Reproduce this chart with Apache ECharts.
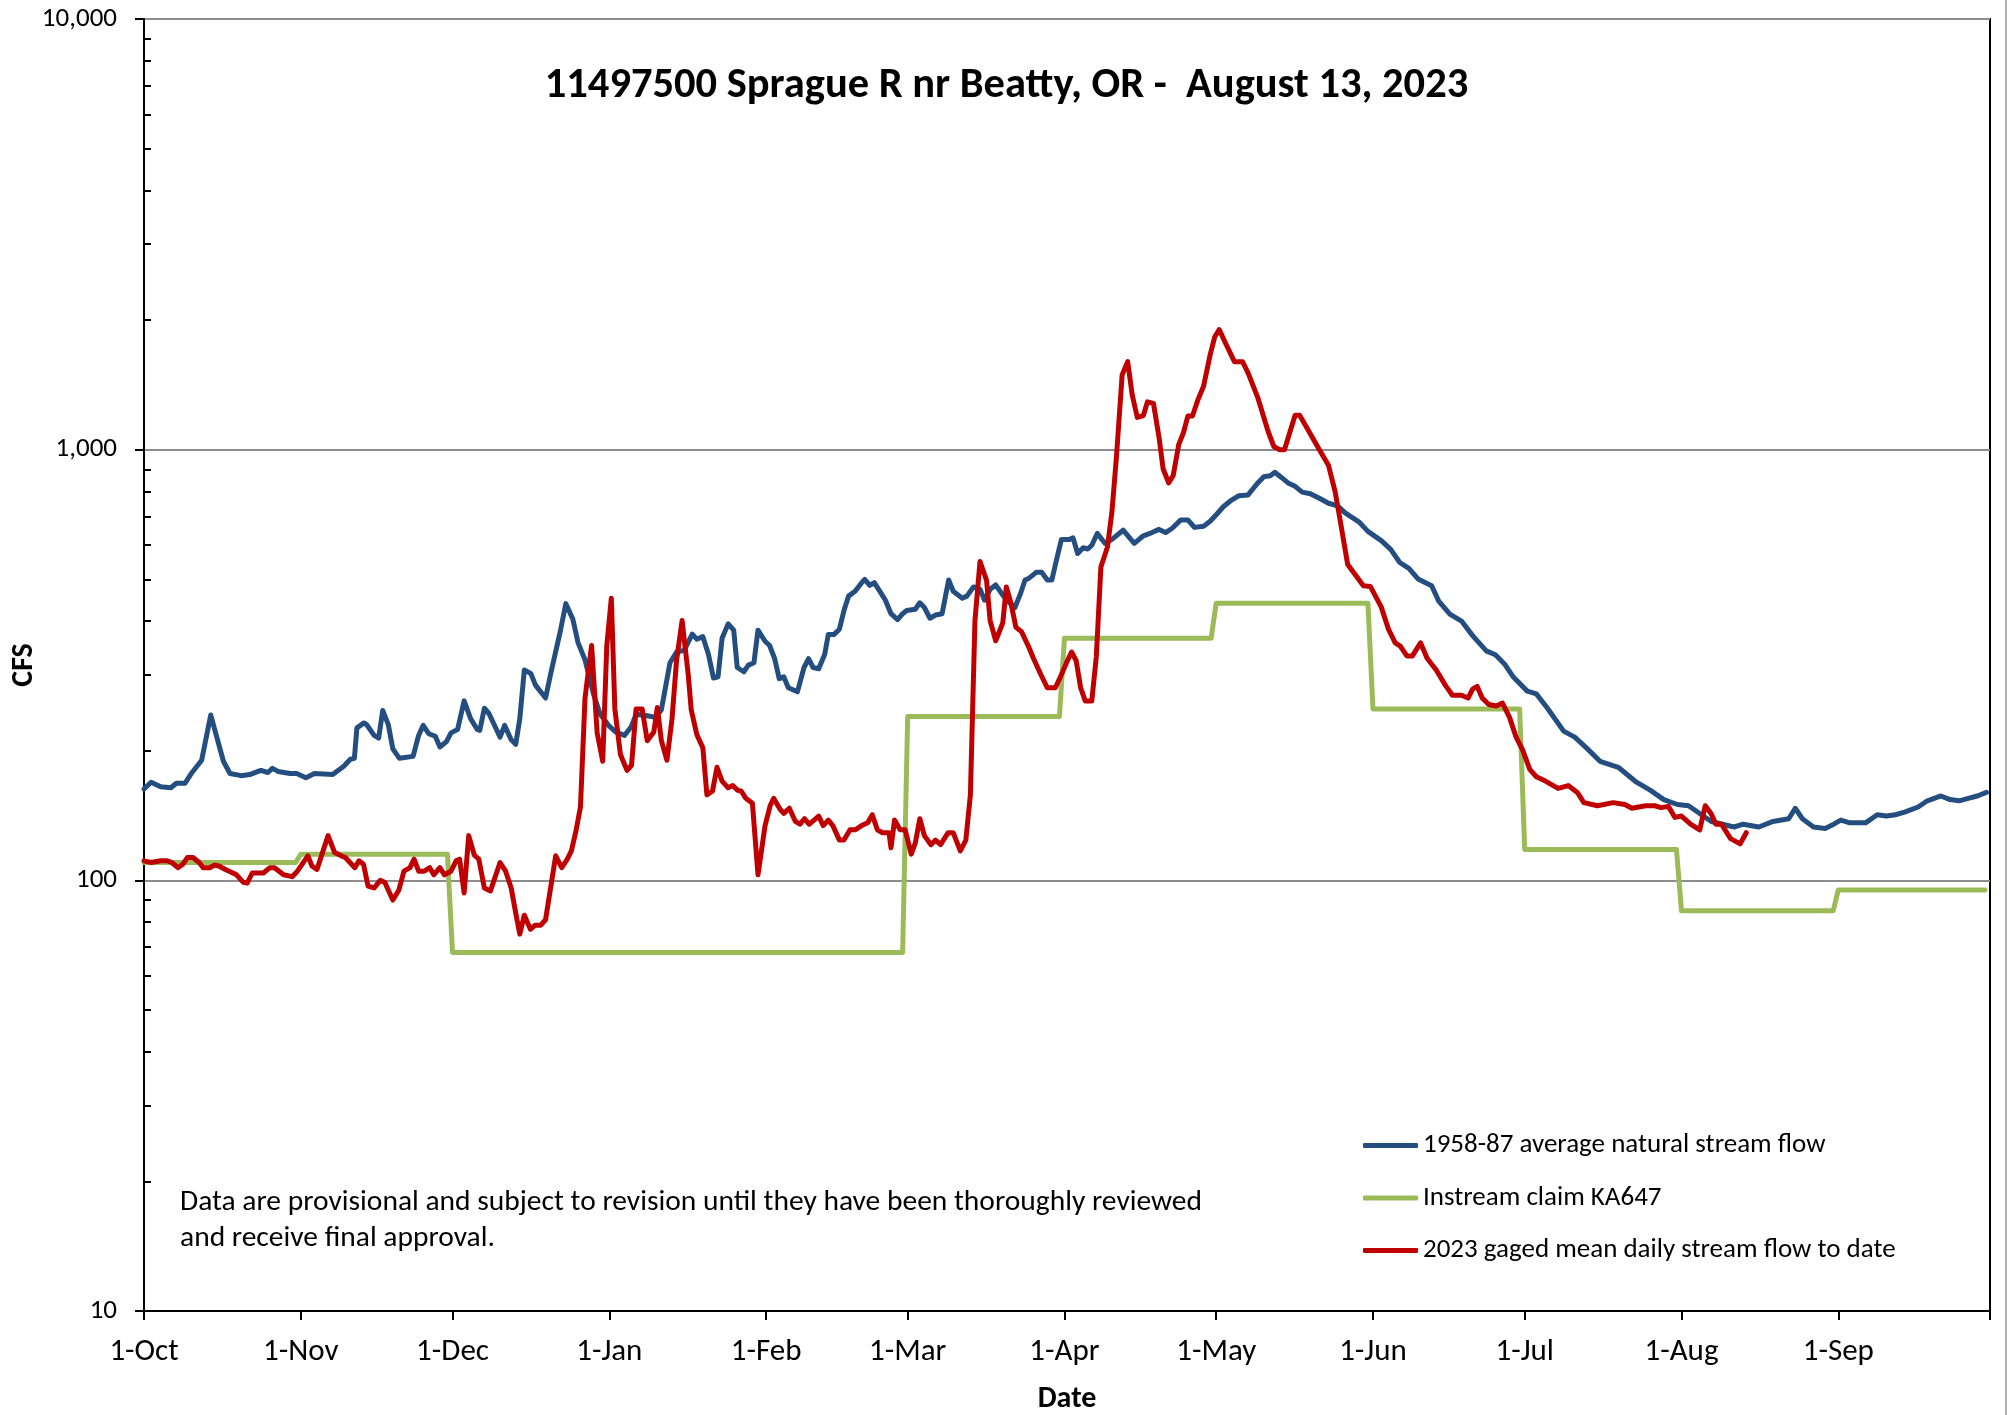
<!DOCTYPE html>
<html>
<head>
<meta charset="utf-8">
<title>Sprague R nr Beatty</title>
<script src="https://cdn.jsdelivr.net/npm/echarts@6/dist/echarts.min.js"></script>
<style>
  html, body { margin: 0; padding: 0; background: #fff; }
  #chart { width: 2013px; height: 1415px; }
</style>
</head>
<body>
<div id="chart"></div>
<script>
// x values are days since 1-Oct (water year)
var monthDays = [0, 31, 61, 92, 123, 151, 182, 212, 243, 273, 304, 335];
var monthLabels = ['1-Oct', '1-Nov', '1-Dec', '1-Jan', '1-Feb', '1-Mar', '1-Apr', '1-May', '1-Jun', '1-Jul', '1-Aug', '1-Sep'];
var tickDays = [0, 31, 61, 92, 123, 151, 182, 212, 243, 273, 304, 335, 365];
var minorTicks = [20, 30, 40, 50, 60, 70, 80, 90, 200, 300, 400, 500, 600, 700, 800, 900, 2000, 3000, 4000, 5000, 6000, 7000, 8000, 9000];

// 1958-87 average natural stream flow
var naturalDays = [0, 1.4, 3.3, 5.3, 6.4, 8.1, 9.5, 11.4, 13.2, 15.7, 17, 19.2, 20.9, 23.1, 24.5, 25.4, 26.5, 28.9, 30.2, 32, 33.7, 37.3, 39.5, 40.8, 41.6, 42.1, 43.5, 44, 45.5, 46.4, 47.2, 48.3, 49.2, 50.5, 53.2, 54.3, 55.2, 56.3, 57.6, 58.5, 59.8, 60.7, 62, 63.3, 64.6, 65.9, 66.4, 67.3, 68.2, 70.4, 71.3, 72.6, 73.5, 74.3, 75.2, 76.5, 77.4, 79.4, 80.5, 82.3, 83.4, 84.8, 85.8, 87.2, 88.9, 90.2, 92, 93.3, 95, 96.4, 97.3, 99.5, 101.2, 102.3, 104, 105.3, 106.8, 108.4, 109.3, 110.5, 111.6, 112.6, 113.5, 114.3, 115.5, 116.6, 117.3, 118.6, 119.5, 120.6, 121.4, 122.8, 123.7, 124.7, 125.6, 126.5, 127.4, 129.2, 130.5, 131.4, 132.3, 133.4, 134.6, 135.3, 136.4, 137.5, 138.4, 139.3, 140.6, 141.9, 142.5, 143.5, 144.4, 145.5, 146.6, 147.7, 149, 150, 150.8, 152.5, 153.4, 154.3, 155.4, 156.5, 157.8, 159.1, 160, 161.8, 162.7, 164, 165.3, 166.2, 167.3, 168.4, 169.6, 170.6, 172.2, 173.3, 174.2, 175, 176.4, 177.5, 178.6, 179.5, 180.3, 181.4, 183, 183.7, 184.6, 185.7, 186.6, 187.4, 188.5, 190, 191.4, 193.6, 195.8, 197.6, 199.3, 200.7, 202, 203.3, 205, 206.4, 207.7, 209.5, 210.8, 212.1, 213.4, 214.8, 216.5, 218.3, 220, 221.4, 222.7, 223.6, 224.9, 226.2, 227.6, 229, 230.6, 232.4, 234.2, 236, 237.5, 240.2, 242, 244.7, 246.5, 248.3, 250.1, 251.9, 254.6, 256, 258.2, 260.5, 262.7, 265.4, 267.2, 269, 270.8, 273.5, 275.3, 277.5, 280.7, 282.9, 285.2, 287.9, 291.5, 295.1, 297.8, 300.5, 303.2, 305.4, 307.6, 309.9, 312.1, 314.4, 316.2, 319.3, 322.1, 325.2, 326.5, 327.9, 330.1, 332.4, 334.1, 335.5, 337.3, 340.4, 342.7, 344.5, 346.3, 348.1, 350.8, 352.6, 355.3, 357.1, 358.9, 360.7, 362.5, 364.3];
var naturalFlow = [163, 169, 165, 164, 168, 168, 178, 190, 242, 189, 177, 175, 176, 180, 178, 182, 179, 177, 177, 173, 177, 176, 184, 191, 192, 226, 232, 230, 217, 214, 248, 230, 202, 192, 194, 217, 229, 219, 216, 204, 210, 220, 224, 261, 237, 224, 223, 251, 244, 215, 229, 212, 207, 237, 308, 302, 284, 265, 305, 378, 439, 404, 357, 325, 270, 243, 228, 221, 217, 228, 243, 241, 239, 249, 320, 339, 342, 373, 363, 368, 335, 295, 297, 365, 394, 381, 312, 305, 316, 320, 381, 359, 351, 327, 294, 297, 280, 274, 312, 327, 312, 310, 335, 372, 372, 383, 423, 457, 469, 491, 500, 484, 491, 469, 447, 416, 403, 416, 423, 426, 441, 430, 406, 413, 416, 498, 469, 452, 457, 480, 474, 447, 474, 485, 463, 447, 430, 463, 498, 503, 519, 519, 498, 498, 547, 619, 619, 624, 574, 592, 588, 600, 639, 606, 619, 650, 606, 631, 642, 653, 642, 657, 687, 687, 660, 664, 682, 708, 737, 760, 782, 785, 831, 865, 870, 886, 862, 837, 822, 797, 790, 771, 751, 741, 713, 680, 646, 614, 587, 547, 530, 501, 483, 445, 415, 400, 370, 341, 334, 318, 296, 275, 271, 251, 222, 215, 203, 189, 183, 169, 162, 154, 150, 149, 143, 137, 135, 133, 135, 133, 137, 139, 147, 139, 133, 132, 135, 138, 136, 136, 142, 141, 142, 144, 148, 153, 157, 154, 153, 155, 157, 160];

// Instream claim KA647 (step line)
var claimDays = [0, 30, 31, 60, 61, 150, 151, 181, 182, 211, 212, 242, 243, 272, 273, 303, 304, 334, 335, 364];
var claimFlow = [110, 110, 115, 115, 68, 68, 240, 240, 365, 365, 440, 440, 250, 250, 118, 118, 85, 85, 95, 95];

// 2023 gaged mean daily stream flow to date
var gagedDays = [0, 1.4, 3.3, 4.6, 5.5, 6.7, 7.7, 8.6, 9.7, 10.9, 11.7, 13, 14, 14.8, 16.1, 18.3, 19.6, 20.4, 21.4, 23.6, 24.9, 25.8, 27.6, 29.3, 30.2, 32.4, 33.2, 34.2, 36.4, 37.7, 39, 39.8, 41.7, 42.5, 43.4, 44.3, 45.5, 46.7, 47.6, 49.2, 50.4, 51.4, 52.6, 53.4, 54.3, 55.4, 56.5, 57.3, 58.5, 59.4, 60.7, 61.7, 62.4, 63.3, 64.2, 65.3, 66.2, 67.3, 68.5, 70.4, 71.5, 72.6, 73.5, 74.3, 75.2, 76.4, 77.3, 78.4, 79.4, 81.4, 82.6, 83.7, 84.5, 85.4, 86.3, 87.2, 88.5, 89.6, 90.7, 91.5, 92.4, 93.1, 94.2, 95.5, 96.4, 97.3, 98.5, 99.5, 100.8, 101.5, 102.3, 103.4, 104.4, 105.3, 106.4, 107.6, 108.2, 109.3, 110.5, 111.3, 112.4, 113.3, 114.3, 115.5, 116.4, 117.3, 118.1, 119, 120.3, 121.4, 122.8, 123.8, 124.5, 125.8, 126.5, 127.6, 128.8, 129.7, 130.6, 131.5, 132.5, 133.4, 134.3, 135.3, 136.2, 137.5, 138.4, 139.6, 140.6, 141.9, 143.1, 144, 145, 146, 147.3, 147.7, 148.4, 149.5, 150.5, 151.7, 152.5, 153.4, 154.3, 155.6, 156.5, 157.5, 159, 160, 161.4, 162.5, 163.4, 164.3, 165.3, 166.6, 167.3, 168.4, 169.8, 170.5, 171.4, 172.4, 173.5, 174.9, 175.9, 177.3, 178.6, 180.2, 181.2, 182.6, 183.4, 184.3, 185.2, 186.1, 187.4, 188.3, 189.2, 190.5, 191.4, 192.3, 193.4, 194.5, 195.4, 196.4, 197.6, 198.4, 199.6, 200.7, 201.5, 202.6, 203.5, 204.6, 205.5, 206.4, 207.3, 208.4, 209.5, 210.8, 211.7, 212.6, 213.9, 215.6, 217.2, 218.3, 220.2, 222.3, 223.4, 224.5, 225.5, 227.6, 228.5, 230.2, 232.4, 234.2, 235.5, 236.2, 238, 241.1, 242.5, 244.6, 246.1, 247.4, 248.4, 249.7, 250.8, 252.4, 253.7, 255.5, 257.3, 258.7, 260.5, 261.8, 262.7, 263.6, 264.6, 265.9, 267.4, 268.6, 270, 271.3, 272.6, 274, 275.3, 277.1, 279.6, 281.6, 283.4, 284.7, 287.4, 290.5, 292.8, 294.2, 296.9, 298.7, 300, 301.4, 302.7, 304, 305.8, 307.6, 308.7, 309.9, 310.8, 311.9, 313.7, 315.6, 316.8];
var gagedFlow = [111, 110, 111, 111, 110, 107, 109, 113, 113, 110, 107, 107, 108.5, 108, 106, 103, 99, 98.5, 104, 104, 107, 107, 103, 102, 104.5, 114, 108, 106, 127, 116, 114, 113, 107, 111, 109, 97, 96, 100, 99, 90, 95, 105, 107, 112, 105, 105, 107, 103, 107, 103, 105, 111, 112, 93.5, 127, 114.5, 112, 96, 94.5, 110, 105, 96, 84, 75, 83, 77, 78.6, 78.6, 81, 114, 107, 112, 117, 130, 148, 265, 351, 220, 189, 350, 452, 250, 196, 180, 185, 250, 250, 211, 221, 252, 211, 190, 237, 324, 401, 301, 249, 218, 203, 158, 161, 183, 170, 164, 166, 162, 161, 155, 151, 103, 134, 149, 155, 146, 143, 147, 137, 135, 139, 135, 138, 141, 134, 138, 134, 124, 124, 131, 131, 134, 136, 142, 131, 129, 129, 119, 138, 131, 131, 115, 122, 139, 127, 121, 124, 121, 129, 129, 117, 124, 158, 401, 550, 497, 401, 360, 396, 480, 441, 387, 378, 349, 327, 301, 280, 280, 297, 324, 339, 324, 280, 261, 261, 331, 534, 594, 720, 970, 1490, 1601, 1339, 1188, 1200, 1291, 1280, 1067, 903, 837, 871, 1029, 1093, 1197, 1197, 1307, 1404, 1660, 1826, 1900, 1762, 1601, 1601, 1508, 1323, 1099, 1017, 1000, 1000, 1202, 1202, 1110, 1000, 920, 800, 720, 541, 483, 481, 432, 382, 356, 350, 332, 332, 356, 328, 308, 284, 269, 269, 265, 278, 282, 265, 256, 254, 258, 239, 215, 200.5, 181, 174, 170, 163.5, 166, 160, 151.5, 149, 151.5, 150, 147, 149, 149, 147.5, 148.5, 140, 141, 135, 131, 149, 142.5, 135, 135, 125, 121.5, 129];

function zip(xs, ys) {
  return xs.map(function (x, i) { return [x, ys[i]]; });
}

var FONT = 'Carlito, Lato, sans-serif';

var chart = echarts.init(document.getElementById('chart'));
chart.setOption({
  animation: false,
  backgroundColor: '#fff',
  title: {
    text: '11497500 Sprague R nr Beatty, OR -  August 13, 2023',
    left: 'center',
    top: 60,
    textStyle: { fontFamily: FONT, fontSize: 42.5, fontWeight: 'bold', color: '#000' }
  },
  grid: {
    left: 144, right: 23, top: 19, bottom: 104,
    outerBoundsMode: 'none',
    show: true, borderColor: '#000', borderWidth: 2, backgroundColor: 'transparent'
  },
  legend: {
    orient: 'vertical',
    left: 1358,
    top: 1125,
    icon: 'roundRect',
    itemWidth: 55,
    itemHeight: 5,
    itemGap: 21.5,
    textStyle: { fontFamily: FONT, fontSize: 27, color: '#000', lineHeight: 31 },
    data: ['1958-87 average natural stream flow', 'Instream claim KA647', '2023 gaged mean daily stream flow to date']
  },
  xAxis: {
    type: 'value',
    min: 0,
    max: 365,
    axisLine: { show: true, lineStyle: { color: '#000', width: 2 } },
    axisTick: { show: true, length: 9, customValues: tickDays, lineStyle: { color: '#000', width: 2 } },
    axisLabel: {
      customValues: monthDays,
      formatter: function (v) { return monthLabels[monthDays.indexOf(v)]; },
      fontFamily: FONT, fontSize: 31, color: '#000', margin: 26
    },
    splitLine: { show: false },
    name: 'Date',
    nameLocation: 'middle',
    nameGap: 73,
    nameMoveOverlap: false,
    nameTextStyle: { fontFamily: FONT, fontSize: 30, fontWeight: 'bold', color: '#000' }
  },
  yAxis: [{
    type: 'log',
    logBase: 10,
    min: 10,
    max: 10000,
    axisLine: { show: true, lineStyle: { color: '#000', width: 2 } },
    axisTick: { show: true, length: 9, lineStyle: { color: '#000', width: 2 } },
    axisLabel: {
      formatter: function (v) { return Math.round(v).toLocaleString('en-US'); },
      fontFamily: FONT, fontSize: 27, color: '#000', margin: 27
    },
    splitLine: { show: true, lineStyle: { color: '#8c8c8c', width: 2 } },
    name: 'CFS',
    nameLocation: 'middle',
    nameRotate: 90,
    nameGap: 105,
    nameMoveOverlap: false,
    nameTextStyle: { fontFamily: FONT, fontSize: 30, fontWeight: 'bold', color: '#000' }
  }, {
    // minor ticks pointing into the plot
    type: 'log',
    logBase: 10,
    min: 10,
    max: 10000,
    position: 'left',
    axisLine: { show: false },
    axisTick: { show: true, inside: true, length: 7, customValues: minorTicks, lineStyle: { color: '#000', width: 2 } },
    axisLabel: { show: false },
    splitLine: { show: false }
  }],
  graphic: [{
    type: 'text',
    left: 180,
    top: 1185,
    style: {
      text: 'Data are provisional and subject to revision until they have been thoroughly reviewed\nand receive final approval.',
      font: '29.5px ' + FONT,
      lineHeight: 36,
      fill: '#000'
    }
  }, {
    type: 'line',
    shape: { x1: 2006, y1: 0, x2: 2006, y2: 1415 },
    style: { stroke: '#9a9a9a', lineWidth: 1.5 }
  }],
  series: [{
    name: '1958-87 average natural stream flow',
    type: 'line',
    data: zip(naturalDays, naturalFlow),
    showSymbol: false,
    symbol: 'none',
    color: '#254E80',
    lineStyle: { width: 5, color: '#254E80', cap: 'round', join: 'round' }
  }, {
    name: 'Instream claim KA647',
    type: 'line',
    data: zip(claimDays, claimFlow),
    showSymbol: false,
    symbol: 'none',
    color: '#9BBB59',
    lineStyle: { width: 5, color: '#9BBB59', cap: 'round', join: 'round' }
  }, {
    name: '2023 gaged mean daily stream flow to date',
    type: 'line',
    data: zip(gagedDays, gagedFlow),
    showSymbol: false,
    symbol: 'none',
    color: '#C00000',
    lineStyle: { width: 5, color: '#C00000', cap: 'round', join: 'round' }
  }]
});
</script>
</body>
</html>
